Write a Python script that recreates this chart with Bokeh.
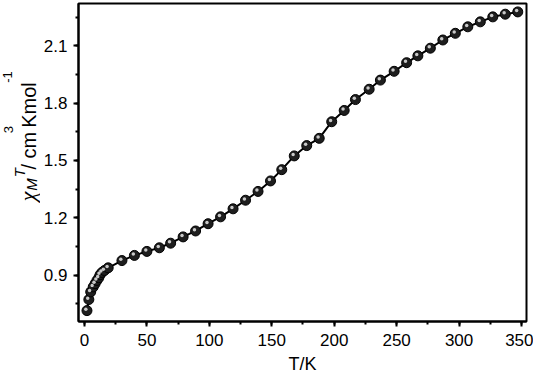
import math
from bokeh.plotting import figure
from bokeh.layouts import row
from bokeh.models import ColumnDataSource, Range1d, SingleIntervalTicker, Label
from bokeh.transform import dodge
from bokeh.embed import file_html
from bokeh.resources import INLINE

# ---- data ----
T = [2, 3.5, 5, 7, 8.5, 10, 11.5, 12.5, 14, 16, 19,
     30, 40, 50, 60, 69, 79, 89, 99, 109, 119, 129, 139, 149, 158, 168,
     178, 188, 198, 208, 217, 228, 237, 248, 258, 267, 277, 287, 297,
     307, 317, 327, 337, 347]
chiT = [0.714, 0.772, 0.812, 0.838, 0.855, 0.872, 0.886, 0.902, 0.914, 0.924, 0.938,
        0.976, 1.003, 1.024, 1.043, 1.067, 1.100, 1.131, 1.169, 1.205, 1.247, 1.292,
        1.338, 1.393, 1.452, 1.524, 1.578, 1.616, 1.703, 1.762, 1.819, 1.873, 1.921,
        1.967, 2.012, 2.048, 2.088, 2.131, 2.166, 2.200, 2.226, 2.252, 2.266, 2.278]
x_label = "T/K"
y_label_parts = ["\u03c7", "M", "T", "/ cm", "3", "Kmol", "-1"]

TOTAL_W, TOTAL_H = 533, 376
LW = 40                                  # width of the strip holding the y label
X0, X1 = -4.78, 354.0
Y0, Y1 = 0.657, 2.322

# ---------------- y-label strip ----------------
lab = figure(width=LW, height=TOTAL_H, output_backend="svg", toolbar_location=None,
             x_range=Range1d(0, LW), y_range=Range1d(0, TOTAL_H),
             x_axis_type=None, y_axis_type=None,
             min_border_left=0, min_border_right=0, min_border_top=0, min_border_bottom=0)
lab.grid.visible = False
lab.outline_line_color = None
lab.background_fill_color = "white"
lab.border_fill_color = "white"

# centre x, centre y (screen pixels from top), size, font, style
layout_spec = [
    (27, 228, "22px", "Liberation Serif", "italic"),
    (30.5, 214, "15px", "Liberation Sans", "italic"),
    (19, 200, "15px", "Liberation Sans", "italic"),
    (28, 174, "20px", "Liberation Sans", "normal"),
    (8, 149, "13px", "Liberation Sans", "normal"),
    (28, 120, "20px", "Liberation Sans", "normal"),
    (7, 87, "13px", "Liberation Sans", "normal"),
]
for txt, (sx, sy, size, font, style) in zip(y_label_parts, layout_spec):
    lab.add_layout(Label(x=sx, y=TOTAL_H - sy, text=txt, angle=math.pi / 2,
                         text_align="center", text_baseline="middle",
                         text_font=font, text_font_size=size,
                         text_font_style=style, text_color="black"))

# ---------------- main plot ----------------
src = ColumnDataSource(dict(T=T, chi=chiT))

p = figure(width=TOTAL_W - LW, height=TOTAL_H, output_backend="svg", toolbar_location=None,
           x_range=Range1d(X0, X1), y_range=Range1d(Y0, Y1),
           min_border_left=76 - LW, min_border_right=7, min_border_top=3,
           min_border_bottom=51)
p.grid.visible = False
p.background_fill_color = "white"
p.border_fill_color = "white"
p.outline_line_color = "black"
p.outline_line_width = 2

p.xaxis.ticker = SingleIntervalTicker(interval=50, num_minor_ticks=2)
p.yaxis.ticker = SingleIntervalTicker(interval=0.3, num_minor_ticks=2)
for ax in (p.xaxis, p.yaxis):
    ax.axis_line_color = "black"
    ax.axis_line_width = 2
    ax.major_tick_line_color = "black"
    ax.major_tick_line_width = 2
    ax.minor_tick_line_color = "black"
    ax.minor_tick_line_width = 2
    ax.major_tick_out = 5
    ax.major_tick_in = 0
    ax.minor_tick_out = 3
    ax.minor_tick_in = 0
    ax.major_label_text_font = "Liberation Sans"
    ax.major_label_text_font_size = "17px"
    ax.major_label_text_color = "black"
p.xaxis.major_label_standoff = 7
p.yaxis.major_label_standoff = 6
p.xaxis.axis_label = x_label
p.xaxis.axis_label_text_font = "Liberation Sans"
p.xaxis.axis_label_text_font_size = "18px"
p.xaxis.axis_label_text_font_style = "normal"
p.xaxis.axis_label_text_color = "black"
p.xaxis.axis_label_standoff = 5

p.line("T", "chi", source=src, line_color="black", line_width=2)
p.scatter("T", "chi", source=src, size=10, fill_color="#1e1e1e", line_color="black", line_width=1)
p.scatter(dodge("T", -0.9, range=p.x_range), dodge("chi", 0.007, range=p.y_range),
          source=src, size=3.5, fill_color="#dcdcdc", line_color=None, fill_alpha=0.9)

layout = row(lab, p, spacing=0)
open("out.html", "w").write(file_html(layout, INLINE))
